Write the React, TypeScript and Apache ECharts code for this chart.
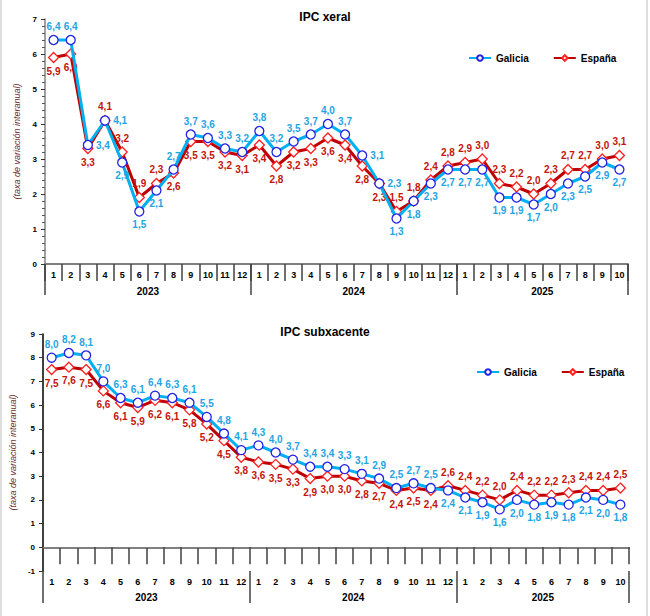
import React, { useEffect, useRef } from "react";
import * as echarts from "echarts";

const monthLabels = [
  "1","2","3","4","5","6","7","8","9","10","11","12",
  "1","2","3","4","5","6","7","8","9","10","11","12",
  "1","2","3","4","5","6","7","8","9","10",
];
const yearLabels = ["2023", "2024", "2025"];
const yearCenters = [6, 18, 29];
const yearBounds = [0, 12, 24, 34];

const xeralGalicia = [6.4,6.4,3.4,4.1,2.9,1.5,2.1,2.7,3.7,3.6,3.3,3.2,3.8,3.2,3.5,3.7,4.0,3.7,3.1,2.3,1.3,1.8,2.3,2.7,2.7,2.7,1.9,1.9,1.7,2.0,2.3,2.5,2.9,2.7];
const xeralEspana = [5.9,6.0,3.3,4.1,3.2,1.9,2.3,2.6,3.5,3.5,3.2,3.1,3.4,2.8,3.2,3.3,3.6,3.4,2.8,2.3,1.5,1.8,2.4,2.8,2.9,3.0,2.3,2.2,2.0,2.3,2.7,2.7,3.0,3.1];
const subxGalicia = [8.0,8.2,8.1,7.0,6.3,6.1,6.4,6.3,6.1,5.5,4.8,4.1,4.3,4.0,3.7,3.4,3.4,3.3,3.1,2.9,2.5,2.7,2.5,2.4,2.1,1.9,1.6,2.0,1.8,1.9,1.8,2.1,2.0,1.8];
const subxEspana = [7.5,7.6,7.5,6.6,6.1,5.9,6.2,6.1,5.8,5.2,4.5,3.8,3.6,3.5,3.3,2.9,3.0,3.0,2.8,2.7,2.4,2.5,2.4,2.6,2.4,2.2,2.0,2.4,2.2,2.2,2.3,2.4,2.4,2.5];

// label placement styles (t = top, b = bottom, r = right, l = left)
const xeralGalPos = "ttrrbbbtttttttttttrrbbbbbbbbbbbbbb";
const xeralEspPos = "bbbttttbbbbbbbbbbbbbtttttttttttttt";
const subxGalPos = "tttttttttttttttttttttttbbbbbbbbbbb";
const subxEspPos = "bbbbbbbbbbbbbbbbbbbbbbbttttttttttt";

const FONT = "'Liberation Sans', Arial, sans-serif";
const GAL_LINE = "#00b0f0";
const GAL_MARK = "#2323e6";
const GAL_LABEL = "#1fa5e3";
const ESP_LINE = "#c00000";
const ESP_MARK = "#ff2020";
const ESP_LABEL = "#c3150c";

const posMap: Record<string, string> = { t: "top", b: "bottom", r: "right", l: "left" };
const fmt = (v: number) => v.toFixed(1).replace(".", ",");

function pointData(values: number[], pos: string) {
  return values.map((v, i) => ({
    value: v,
    label: { position: posMap[pos[i]] },
  }));
}

function makeSeries(
  name: string,
  values: number[],
  pos: string,
  idx: number,
  gal: boolean,
  extra: any = {}
) {
  return {
    name,
    type: "line",
    xAxisIndex: idx * 2,
    yAxisIndex: idx,
    data: pointData(values, pos),
    symbol: gal ? "circle" : "diamond",
    symbolSize: gal ? 9 : 10,
    lineStyle: { color: gal ? GAL_LINE : ESP_LINE, width: 3 },
    itemStyle: {
      color: "#ffffff",
      borderColor: gal ? GAL_MARK : ESP_MARK,
      borderWidth: 1.3,
    },
    label: {
      show: true,
      formatter: (p: any) => fmt(p.value),
      color: gal ? GAL_LABEL : ESP_LABEL,
      fontFamily: FONT,
      fontWeight: "bold",
      fontSize: 10,
      distance: 3,
    },
    z: gal ? 3 : 2,
    ...extra,
  };
}

function monthAxis(gridIndex: number, lineColor: string) {
  return {
    type: "category",
    gridIndex,
    position: "bottom",
    data: monthLabels,
    boundaryGap: true,
    axisLine: { show: true, lineStyle: { color: "#808080", width: 2 } },
    axisTick: {
      show: true,
      interval: 0,
      length: 17,
      lineStyle: { color: lineColor, width: 1.5 },
    },
    axisLabel: {
      interval: 0,
      margin: 6,
      color: "#000",
      fontFamily: FONT,
      fontWeight: "bold",
      fontSize: 9,
    },
    splitLine: { show: false },
  };
}

function yearAxis(gridIndex: number, tickLen: number, margin: number) {
  return {
    type: "value",
    gridIndex,
    position: "bottom",
    min: 0,
    max: 34,
    axisLine: { show: false },
    axisTick: {
      show: true,
      customValues: yearBounds,
      length: tickLen,
      lineStyle: { color: "#404040", width: 1.5 },
    },
    axisLabel: {
      show: true,
      customValues: yearCenters,
      formatter: (v: number) => yearLabels[yearCenters.indexOf(v)] ?? "",
      margin,
      color: "#000",
      fontFamily: FONT,
      fontWeight: "bold",
      fontSize: 10,
    },
    splitLine: { show: false },
  };
}

function valueAxis(gridIndex: number, min: number, max: number, lineColor: string, minor: boolean, nameGap: number) {
  return {
    type: "value",
    gridIndex,
    min,
    max,
    interval: 1,
    name: "(taxa de variación interanual)",
    nameLocation: "middle",
    nameGap,
    nameTextStyle: {
      fontFamily: FONT,
      fontStyle: "italic",
      fontSize: 9,
      color: "#6b2a2a",
    },
    axisLine: { show: true, lineStyle: { color: lineColor, width: 1.5 } },
    axisTick: { show: true, length: 4, lineStyle: { color: "#333" } },
    minorTick: { show: minor, splitNumber: 5, length: 3, lineStyle: { color: "#555" } },
    axisLabel: {
      color: "#000",
      fontFamily: FONT,
      fontWeight: "bold",
      fontSize: 8,
      margin: 8,
    },
    splitLine: { show: false },
  };
}

export default function App() {
  const ref = useRef<HTMLDivElement>(null);

  useEffect(() => {
    if (!ref.current) return;
    const chart = echarts.init(ref.current, null, { renderer: "svg" });
    const legendBase = {
      itemWidth: 22,
      itemHeight: 7,
      itemGap: 24,
      textStyle: { fontFamily: FONT, fontWeight: "bold", fontSize: 10, color: "#000" },
      data: ["Galicia", "España"],
    };
    chart.setOption({
      animation: false,
      backgroundColor: "#ffffff",
      textStyle: { fontFamily: FONT },
      title: [
        {
          text: "IPC xeral",
          left: "center",
          top: 6,
          textStyle: { fontFamily: FONT, fontWeight: "bold", fontSize: 12, color: "#000" },
        },
        {
          text: "IPC subxacente",
          left: "center",
          top: 321,
          textStyle: { fontFamily: FONT, fontWeight: "bold", fontSize: 12, color: "#000" },
        },
      ],
      legend: [
        { ...legendBase, left: 463, top: 48 },
        { ...legendBase, left: 471, top: 362 },
      ],
      grid: [
        { left: 45, top: 19, width: 583, height: 245 },
        { left: 40, top: 334, width: 589, height: 237 },
      ],
      xAxis: [
        monthAxis(0, "#404040"),
        yearAxis(0, 31, 22),
        monthAxis(1, "#404040"),
        yearAxis(1, 32, 21),
      ],
      yAxis: [
        valueAxis(0, 0, 7, "#808080", true, 18),
        valueAxis(1, -1, 9, "#000000", false, 23),
      ],
      graphic: [
        {
          type: "rect",
          shape: { x: 1, y: -2, width: 646, height: 620 },
          style: { fill: "none", stroke: "#d4d4d4", lineWidth: 1.5 },
          silent: true,
        },
      ],
      series: [
        makeSeries("España", xeralEspana, xeralEspPos, 0, false),
        makeSeries("Galicia", xeralGalicia, xeralGalPos, 0, true),
        makeSeries("España", subxEspana, subxEspPos, 1, false),
        makeSeries("Galicia", subxGalicia, subxGalPos, 1, true, {
          markLine: {
            silent: true,
            symbol: "none",
            label: { show: false },
            lineStyle: { color: "#808080", type: [8, 6], width: 1 },
            data: [{ yAxis: 0 }],
          },
        }),
      ],
    });
    return () => chart.dispose();
  }, []);

  return (
    <div
      ref={ref}
      style={{ position: "fixed", left: 0, top: 0, width: 650, height: 616 }}
    />
  );
}
